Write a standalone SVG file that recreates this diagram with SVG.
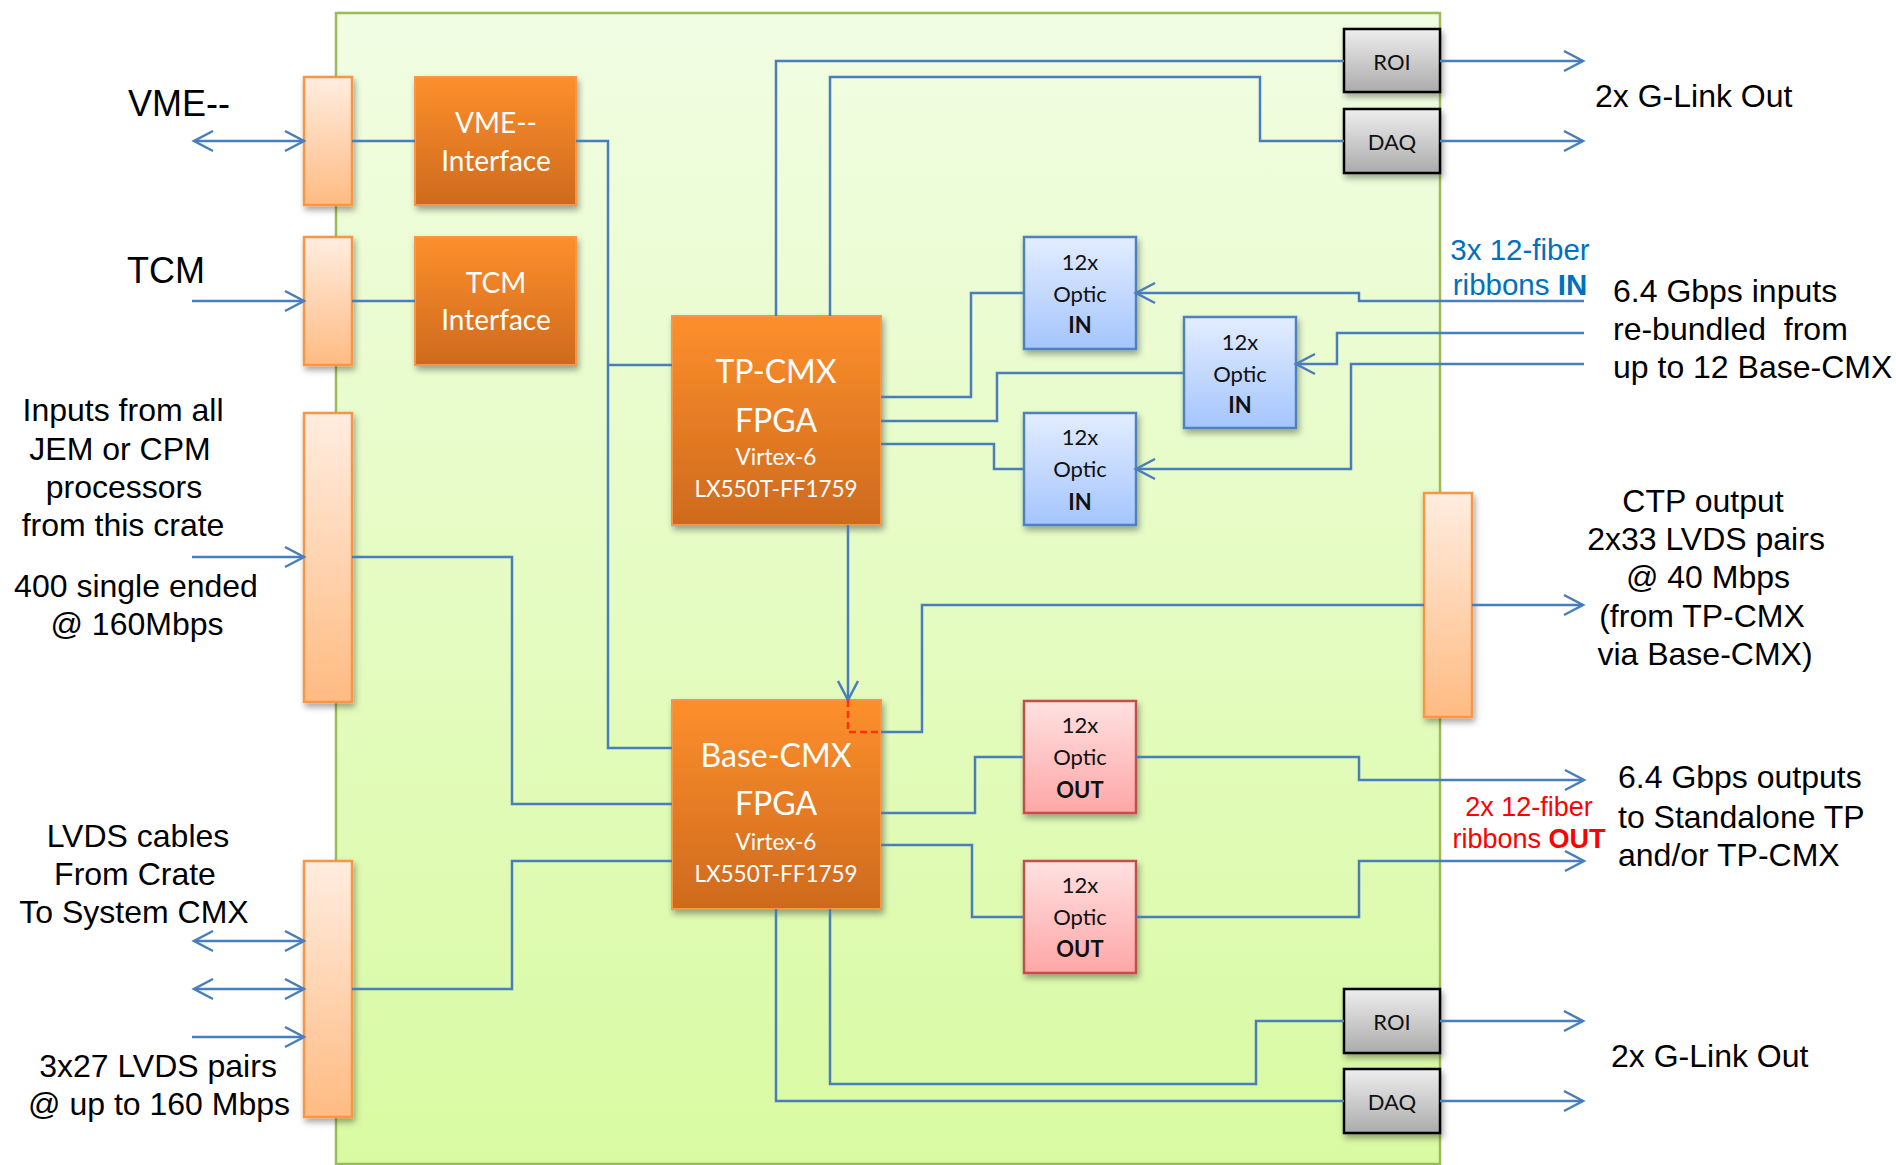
<svg xmlns="http://www.w3.org/2000/svg" width="1896" height="1165" viewBox="0 0 1896 1165">
<style>
.lbl{font-family:"Liberation Sans",Arial,sans-serif;fill:#000}
.box{font-family:Lato,"Open Sans",sans-serif}
.wt{fill:#fff;text-anchor:middle}
.bk{fill:#111;text-anchor:middle}
.ln{fill:none;stroke:#4A7EBB;stroke-width:2.5}
.ar{marker-end:url(#arr)}
.ar2{marker-start:url(#arr);marker-end:url(#arr)}
.conn{fill:url(#gConn);stroke:#F79646;stroke-width:2.5}
.fpga{fill:url(#gOrange);stroke:#F79646;stroke-width:2}
.oin{fill:url(#gBlue);stroke:#4F81BD;stroke-width:2.5}
.oout{fill:url(#gRed);stroke:#C0504D;stroke-width:2.5}
.gray{fill:url(#gGray);stroke:#000;stroke-width:2.5}
.pre{white-space:pre}
</style>
<defs>
<linearGradient id="gBoard" x1="0" y1="0" x2="0" y2="1"><stop offset="0" stop-color="#F1FDE3"/><stop offset="1" stop-color="#D9FAA2"/></linearGradient>
<linearGradient id="gConn" x1="0" y1="0" x2="0" y2="1"><stop offset="0" stop-color="#FFEDE0"/><stop offset="1" stop-color="#FFBB82"/></linearGradient>
<linearGradient id="gOrange" x1="0" y1="0" x2="0" y2="1"><stop offset="0" stop-color="#FD8F2C"/><stop offset="1" stop-color="#CE6A1E"/></linearGradient>
<linearGradient id="gBlue" x1="0" y1="0" x2="0" y2="1"><stop offset="0" stop-color="#E3EDFF"/><stop offset="1" stop-color="#A4C5FD"/></linearGradient>
<linearGradient id="gRed" x1="0" y1="0" x2="0" y2="1"><stop offset="0" stop-color="#FFE1E1"/><stop offset="1" stop-color="#FFA6A6"/></linearGradient>
<linearGradient id="gGray" x1="0" y1="0" x2="0" y2="1"><stop offset="0" stop-color="#EEEEEE"/><stop offset="1" stop-color="#ABABAB"/></linearGradient>
<filter id="sh" x="-20%" y="-20%" width="150%" height="150%"><feDropShadow dx="2" dy="4" stdDeviation="3" flood-color="#000" flood-opacity="0.35"/></filter>
<marker id="arr" viewBox="-22 -12 24 24" refX="0" refY="0" markerWidth="24" markerHeight="24" markerUnits="userSpaceOnUse" orient="auto-start-reverse" overflow="visible"><path d="M-19,-10 L0,0 L-19,10" fill="none" stroke="#4A7EBB" stroke-width="2.5"/></marker>
</defs>

<g id="board"><rect x="336" y="13" width="1104" height="1151" fill="url(#gBoard)" stroke="#9BBB59" stroke-width="2.5"/></g>

<g id="conn-vme"><rect class="conn" x="304" y="77" width="48" height="128" filter="url(#sh)"/></g>
<g id="conn-tcm"><rect class="conn" x="304" y="237" width="48" height="128" filter="url(#sh)"/></g>
<g id="conn-inputs"><rect class="conn" x="304" y="413" width="48" height="289" filter="url(#sh)"/></g>
<g id="conn-lvds"><rect class="conn" x="304" y="861" width="48" height="256" filter="url(#sh)"/></g>
<g id="conn-ctp"><rect class="conn" x="1424" y="493" width="48" height="224" filter="url(#sh)"/></g>

<g id="vme-interface"><rect class="fpga" x="415" y="77" width="161" height="128" filter="url(#sh)"/>
<text class="box wt" x="496" y="133" font-size="28">VME--</text><text class="box wt" x="496" y="171" font-size="28">Interface</text></g>
<g id="tcm-interface"><rect class="fpga" x="415" y="237" width="161" height="128" filter="url(#sh)"/>
<text class="box wt" x="496" y="293" font-size="28">TCM</text><text class="box wt" x="496" y="330" font-size="28">Interface</text></g>

<g id="tp-cmx"><rect class="fpga" x="672" y="316" width="209" height="209" filter="url(#sh)"/>
<text class="box wt" x="776" y="383" font-size="32">TP-CMX</text><text class="box wt" x="776" y="432" font-size="32">FPGA</text>
<text class="box wt" x="776" y="465" font-size="22.5">Virtex-6</text><text class="box wt" x="776" y="497" font-size="22.5">LX550T-FF1759</text></g>
<g id="base-cmx"><rect class="fpga" x="672" y="700" width="209" height="209" filter="url(#sh)"/>
<text class="box wt" x="776" y="767" font-size="32">Base-CMX</text><text class="box wt" x="776" y="815" font-size="32">FPGA</text>
<text class="box wt" x="776" y="850" font-size="22.5">Virtex-6</text><text class="box wt" x="776" y="882" font-size="22.5">LX550T-FF1759</text></g>

<g id="optic-in-1"><rect class="oin" x="1024" y="237" width="112" height="112" filter="url(#sh)"/>
<text class="box bk" x="1080" y="270" font-size="22">12x</text><text class="box bk" x="1080" y="302" font-size="22">Optic</text><text class="box bk" x="1080" y="333" font-size="22" font-weight="bold">IN</text></g>
<g id="optic-in-2"><rect class="oin" x="1184" y="317" width="112" height="111" filter="url(#sh)"/>
<text class="box bk" x="1240" y="350" font-size="22">12x</text><text class="box bk" x="1240" y="382" font-size="22">Optic</text><text class="box bk" x="1240" y="413" font-size="22" font-weight="bold">IN</text></g>
<g id="optic-in-3"><rect class="oin" x="1024" y="413" width="112" height="112" filter="url(#sh)"/>
<text class="box bk" x="1080" y="445" font-size="22">12x</text><text class="box bk" x="1080" y="477" font-size="22">Optic</text><text class="box bk" x="1080" y="510" font-size="22" font-weight="bold">IN</text></g>
<g id="optic-out-1"><rect class="oout" x="1024" y="701" width="112" height="112" filter="url(#sh)"/>
<text class="box bk" x="1080" y="733" font-size="22">12x</text><text class="box bk" x="1080" y="765" font-size="22">Optic</text><text class="box bk" x="1080" y="798" font-size="22" font-weight="bold">OUT</text></g>
<g id="optic-out-2"><rect class="oout" x="1024" y="861" width="112" height="112" filter="url(#sh)"/>
<text class="box bk" x="1080" y="893" font-size="22">12x</text><text class="box bk" x="1080" y="925" font-size="22">Optic</text><text class="box bk" x="1080" y="957" font-size="22" font-weight="bold">OUT</text></g>

<g id="roi-top"><rect class="gray" x="1344" y="29" width="96" height="63" filter="url(#sh)"/><text class="box bk" x="1392" y="70" font-size="22">ROI</text></g>
<g id="daq-top"><rect class="gray" x="1344" y="109" width="96" height="64" filter="url(#sh)"/><text class="box bk" x="1392" y="150" font-size="22">DAQ</text></g>
<g id="roi-bottom"><rect class="gray" x="1344" y="989" width="96" height="64" filter="url(#sh)"/><text class="box bk" x="1392" y="1030" font-size="22">ROI</text></g>
<g id="daq-bottom"><rect class="gray" x="1344" y="1069" width="96" height="64" filter="url(#sh)"/><text class="box bk" x="1392" y="1110" font-size="22">DAQ</text></g>

<g id="connectors">
<path class="ln ar2" d="M194,141 H304"/>
<path class="ln" d="M352,141 H415"/>
<path class="ln" d="M576,141 H608 V748 H672"/>
<path class="ln" d="M608,365 H672"/>
<path class="ln ar" d="M192,301 H304"/>
<path class="ln" d="M352,301 H415"/>
<path class="ln ar" d="M192,557 H304"/>
<path class="ln" d="M352,557 H512 V804 H672"/>
<path class="ln ar2" d="M194,941 H304"/>
<path class="ln ar2" d="M194,989 H304"/>
<path class="ln ar" d="M192,1037 H304"/>
<path class="ln" d="M352,989 H512 V861 H672"/>
<path class="ln" d="M776,316 V61 H1344"/>
<path class="ln" d="M830,316 V77 H1260 V141 H1344"/>
<path class="ln ar" d="M1440,61 H1583"/>
<path class="ln ar" d="M1440,141 H1583"/>
<path class="ln" d="M881,397 H971 V293 H1024"/>
<path class="ln" d="M881,421 H997 V373 H1184"/>
<path class="ln" d="M881,444 H994 V469 H1024"/>
<path class="ln ar" d="M1584,301 H1359 V293 H1136"/>
<path class="ln ar" d="M1584,333 H1337 V364 H1296"/>
<path class="ln ar" d="M1584,364 H1351 V469 H1136"/>
<path class="ln ar" d="M848,525 V700"/>
<path d="M848,700 V732 H881" fill="none" stroke="#FF3300" stroke-width="2.5" stroke-dasharray="7,4"/>
<path class="ln" d="M881,732 H922 V605 H1424"/>
<path class="ln ar" d="M1472,605 H1583"/>
<path class="ln" d="M881,813 H975 V757 H1024"/>
<path class="ln" d="M881,845 H972 V917 H1024"/>
<path class="ln ar" d="M1136,757 H1359 V780 H1584"/>
<path class="ln ar" d="M1136,917 H1359 V861 H1584"/>
<path class="ln" d="M776,909 V1101 H1344"/>
<path class="ln" d="M830,909 V1084 H1256 V1021 H1344"/>
<path class="ln ar" d="M1440,1021 H1583"/>
<path class="ln ar" d="M1440,1101 H1583"/>
</g>

<g id="labels">
<text class="lbl" x="128" y="116" font-size="36">VME--</text>
<text class="lbl" x="127" y="283" font-size="36">TCM</text>
<g text-anchor="middle" font-size="32">
<text class="lbl" x="123" y="421">Inputs from all</text>
<text class="lbl" x="120" y="460">JEM or CPM</text>
<text class="lbl" x="124" y="498">processors</text>
<text class="lbl" x="123" y="536">from this crate</text>
<text class="lbl" x="136" y="597">400 single ended</text>
<text class="lbl" x="137" y="635">@ 160Mbps</text>
</g>
<g text-anchor="middle" font-size="32">
<text class="lbl" x="138" y="847">LVDS cables</text>
<text class="lbl" x="135" y="885">From Crate</text>
<text class="lbl" x="134" y="923">To System CMX</text>
<text class="lbl" x="158" y="1077">3x27 LVDS pairs</text>
<text class="lbl" x="159" y="1115">@ up to 160 Mbps</text>
</g>
<text class="lbl" x="1595" y="107" font-size="32">2x G-Link Out</text>
<text class="lbl" x="1611" y="1067" font-size="32">2x G-Link Out</text>
<g font-size="32">
<text class="lbl" x="1613" y="302">6.4 Gbps inputs</text>
<text class="lbl pre" x="1613" y="340">re-bundled  from</text>
<text class="lbl" x="1613" y="378">up to 12 Base-CMX</text>
</g>
<g text-anchor="middle" font-size="32">
<text class="lbl" x="1703" y="512">CTP output</text>
<text class="lbl" x="1706" y="550">2x33 LVDS pairs</text>
<text class="lbl" x="1708" y="588">@ 40 Mbps</text>
<text class="lbl" x="1702" y="627">(from TP-CMX</text>
<text class="lbl" x="1705" y="665">via Base-CMX)</text>
</g>
<g font-size="32">
<text class="lbl" x="1618" y="788">6.4 Gbps outputs</text>
<text class="lbl" x="1618" y="828">to Standalone TP</text>
<text class="lbl" x="1618" y="866">and/or TP-CMX</text>
</g>
<g text-anchor="middle" font-family="Liberation Sans, Arial, sans-serif">
<text x="1520" y="260" fill="#0070C0" font-size="29.5">3x 12-fiber</text>
<text x="1520" y="295" fill="#0070C0" font-size="29.5">ribbons <tspan font-weight="bold">IN</tspan></text>
<text x="1529" y="816" fill="#FF0000" font-size="27">2x 12-fiber</text>
<text x="1529" y="848" fill="#FF0000" font-size="27">ribbons <tspan font-weight="bold">OUT</tspan></text>
</g>
</g>
</svg>
